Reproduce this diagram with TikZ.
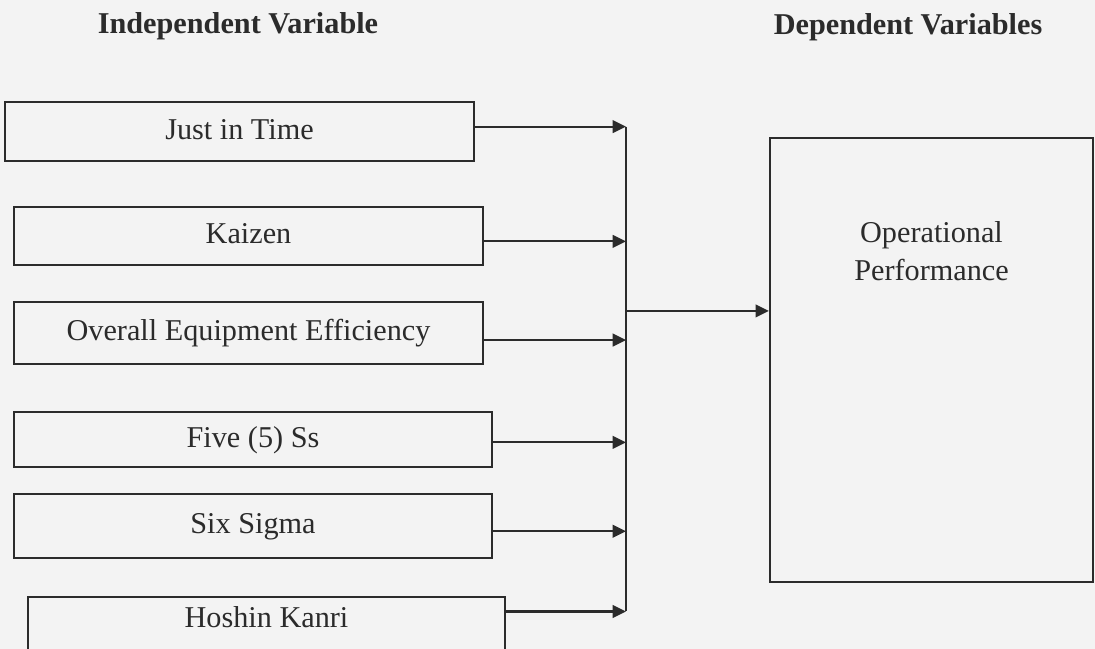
\documentclass[tikz,border=0pt]{standalone}
\usepackage{fontspec}
\setmainfont{Liberation Serif}
\usepackage{xcolor}
\usetikzlibrary{calc,positioning,arrows.meta}
\definecolor{ink}{HTML}{2B2B2B}
\definecolor{paper}{HTML}{F3F3F3}
\tikzset{
  var/.style={draw=ink, line width=1.5pt, inner sep=0pt, text=ink, font=\fontsize{21.5}{27}\selectfont, text height=16pt, text depth=5pt},
  optext/.style={inner sep=0pt, text=ink, align=center, font=\fontsize{21.5}{27}\selectfont},
  head/.style={text=ink, font=\fontsize{21.5}{27}\selectfont\bfseries, anchor=base},
  link/.style={draw=ink, line width=1.5pt},
  arr/.style={link, -{Triangle[length=9.5pt,width=9pt]}},
}
\begin{document}
\begin{tikzpicture}[x=0.025cm, y=-0.025cm]
  \fill[paper] (0,0) rectangle (1095,649);
  \useasboundingbox (0,0) rectangle (1095,649);
  % headings
  \node[head] (indep) at (238,34) {Independent Variable};
  \node[head] (dep) at (908,35) {Dependent Variables};
  % independent variables
  \node[var, minimum width=11.725cm, minimum height=1.475cm] (jit) at (239.5,131.5) {Just in Time};
  \node[var, minimum width=11.725cm, minimum height=1.45cm] (kai) at (248.5,236) {Kaizen};
  \node[var, minimum width=11.725cm, minimum height=1.55cm] (oee) at (248.5,333) {Overall Equipment Efficiency};
  \node[var, minimum width=11.95cm, minimum height=1.375cm] (fss) at (253,439.5) {Five (5) Ss};
  \node[var, minimum width=11.95cm, minimum height=1.6cm] (six) at (253,526) {Six Sigma};
  \node[var, minimum width=11.925cm, minimum height=1.5cm, text height=15pt, text depth=15pt] (hk) at (266.5,627) {Hoshin Kanri};
  % dependent variable
  \node[var, minimum width=8.075cm, minimum height=11.1cm] (op) at (931.5,360) {};
  \node[optext, below=2.1cm of op.north] (optxt) {Operational\\Performance};
  % connectors
  \coordinate (spine) at (626,0);
  \foreach \b/\f in {jit/0.42,kai/0.59,oee/0.61,fss/0.55,six/0.58,hk/0.25}
    \draw[arr] ($(\b.north east)!\f!(\b.south east)$) coordinate (out\b) -- (out\b -| spine);
  \draw[link] (outjit -| spine) -- (outhk -| spine);
  \coordinate (opin) at ($(op.north west)!0.39!(op.south west)$);
  \draw[arr] (opin -| spine) -- (opin);
\end{tikzpicture}
\end{document}
